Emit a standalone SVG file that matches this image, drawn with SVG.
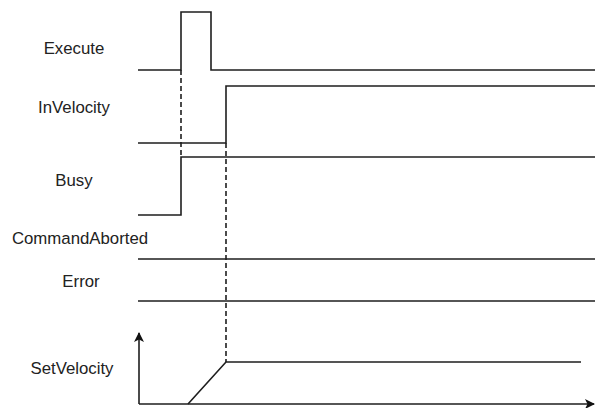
<svg xmlns="http://www.w3.org/2000/svg" width="595" height="408" viewBox="0 0 595 408">
  <style>
    .sig { fill: none; stroke: #1e1e1e; stroke-width: 1.6; }
    .dash { fill: none; stroke: #1e1e1e; stroke-width: 1.6; stroke-dasharray: 5 3; }
    .lbl { font-family: "Liberation Sans", Arial, sans-serif; font-size: 16.8px; fill: #222; text-anchor: middle; }
  </style>
  <defs>
    <marker id="arrow" viewBox="0 0 10 10" refX="9" refY="5" markerWidth="10" markerHeight="10" markerUnits="userSpaceOnUse" orient="auto">
      <path d="M0,0 L10,5 L0,10 L2.5,5 Z" fill="#111"/>
    </marker>
  </defs>
  <rect width="595" height="408" fill="#fff"/>

  <g id="execute">
    <text class="lbl" x="74" y="54">Execute</text>
    <polyline class="sig" points="138,70 181,70 181,12 211,12 211,70 595,70"/>
  </g>

  <g id="invelocity">
    <text class="lbl" x="74" y="113">InVelocity</text>
    <polyline class="sig" points="138,143 226,143 226,86 595,86"/>
  </g>

  <g id="busy">
    <text class="lbl" x="74" y="186">Busy</text>
    <polyline class="sig" points="138,215 181,215 181,157 595,157"/>
  </g>

  <g id="commandaborted">
    <text class="lbl" x="80" y="244">CommandAborted</text>
    <line class="sig" x1="138" y1="259" x2="595" y2="259"/>
  </g>

  <g id="error">
    <text class="lbl" x="81" y="287">Error</text>
    <line class="sig" x1="138" y1="301" x2="595" y2="301"/>
  </g>

  <g id="setvelocity">
    <text class="lbl" x="72" y="374">SetVelocity</text>
    <polyline class="sig" points="188,404 226,362 581,362"/>
  </g>

  <g id="connectors">
    <line class="dash" x1="181" y1="70" x2="181" y2="157"/>
    <line class="dash" x1="226" y1="143" x2="226" y2="362"/>
    <line class="sig" x1="139" y1="404" x2="139" y2="333" marker-end="url(#arrow)"/>
    <line class="sig" x1="139" y1="404" x2="594" y2="404" marker-end="url(#arrow)"/>
  </g>
</svg>
